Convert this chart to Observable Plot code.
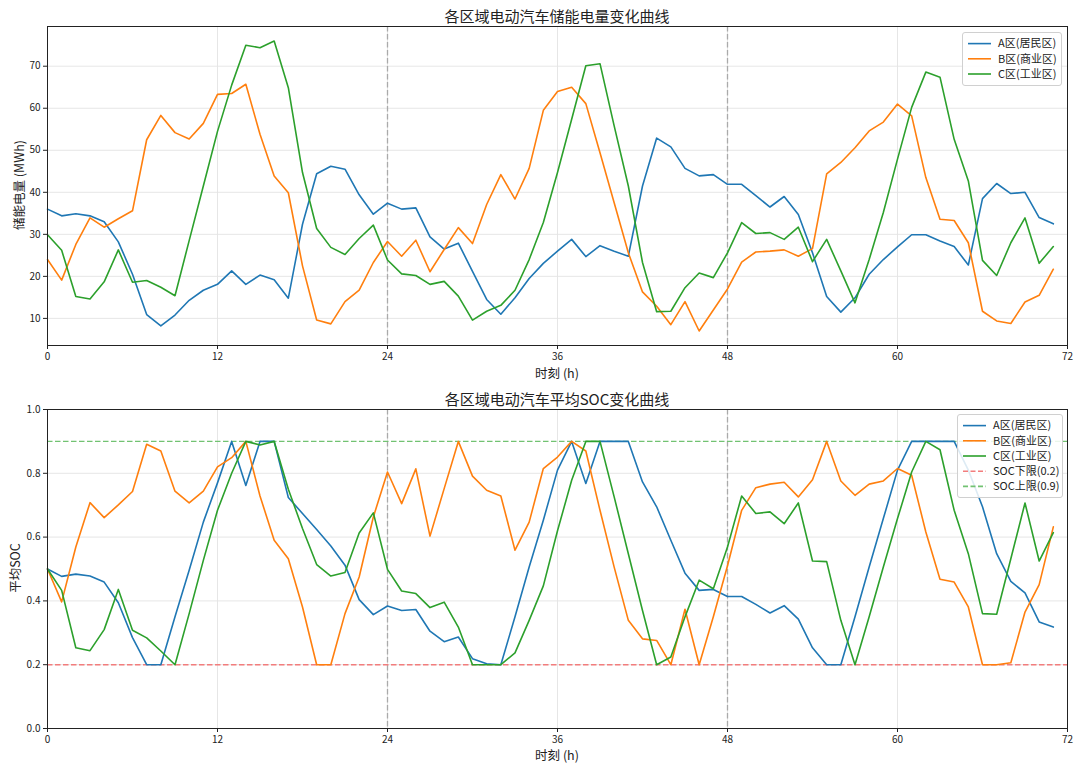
<!DOCTYPE html>
<html>
<head>
<meta charset="utf-8">
<script src="https://cdn.jsdelivr.net/npm/d3@7"></script>
<script src="https://cdn.jsdelivr.net/npm/@observablehq/plot@0.6"></script>
<style>
  html, body { margin: 0; padding: 0; background: #fff; }
  #root { position: relative; width: 1080px; height: 769px; font-family: "Noto Sans CJK SC", sans-serif; color: #222; }
  .abs { position: absolute; white-space: nowrap; }
  .title { font-size: 15px; transform: translate(-50%, -50%); }
  .xlab { font-size: 12.5px; transform: translate(-50%, -50%); }
  .ylab { font-size: 12.5px; transform: translate(-50%, -50%) rotate(-90deg); }
  .legend { background: rgba(255,255,255,0.85); border: 1px solid #d0d0d0; border-radius: 3px; }
</style>
</head>
<body>
<div id="root"></div>
<script>
// ---------------- data ----------------
const hours = d3.range(0, 72);
const xTicks = [0, 12, 24, 36, 48, 60, 72];
const dayLines = [24, 48];
const energyTicks = [10, 20, 30, 40, 50, 60, 70];
const socTicks = [0, 0.2, 0.4, 0.6, 0.8, 1.0];
const socLower = 0.2;
const socUpper = 0.9;
const zoneNames = ["A区(居民区)", "B区(商业区)", "C区(工业区)"];
const zoneColors = ["#1f77b4", "#ff7f0e", "#2ca02c"];
const lowerColor = "#f27d7d";
const upperColor = "#72c272";

const energyA = [36.0, 34.4, 34.9, 34.4, 33.0, 28.2, 20.5, 10.9, 8.2, 10.8, 14.3, 16.7,
  18.1, 21.3, 18.1, 20.3, 19.2, 14.8, 32.4, 44.4, 46.2, 45.5, 39.4, 34.8,
  37.4, 36.0, 36.3, 29.4, 26.5, 27.9, 21.2, 14.5, 11.0, 14.9, 19.5, 23.1,
  26.0, 28.8, 24.7, 27.3, 26.0, 24.8, 41.5, 52.9, 50.8, 45.7, 43.9, 44.2,
  41.9, 41.9, 39.2, 36.5, 39.0, 34.7, 25.6, 15.2, 11.5, 14.9, 20.5, 24.0,
  27.0, 29.9, 29.9, 28.4, 27.1, 22.7, 38.5, 42.1, 39.7, 40.0, 34.0, 32.5];
const energyB = [24.0, 19.1, 27.6, 33.9, 31.7, 33.7, 35.6, 52.5, 58.3, 54.2, 52.7, 56.4,
  63.3, 63.5, 65.7, 53.8, 43.9, 39.9, 22.5, 9.6, 8.7, 14.0, 16.7, 23.3,
  28.3, 24.8, 28.6, 21.1, 26.4, 31.6, 27.8, 37.1, 44.2, 38.4, 45.7, 59.5,
  64.0, 65.0, 61.1, 49.4, 37.5, 25.6, 16.3, 12.9, 8.5, 14.0, 7.0, 12.0,
  17.0, 23.4, 25.8, 26.0, 26.3, 24.8, 26.6, 44.4, 47.1, 50.6, 54.6, 56.7,
  61.0, 58.2, 43.5, 33.6, 33.3, 28.0, 11.7, 9.4, 8.8, 13.9, 15.5, 21.7];
const energyC = [29.9, 26.2, 15.2, 14.6, 18.7, 26.3, 18.6, 19.0, 17.4, 15.4, 28.5, 41.5,
  54.5, 65.5, 75.0, 74.4, 76.0, 64.9, 44.7, 31.4, 26.9, 25.2, 29.0, 32.2,
  23.9, 20.6, 20.2, 18.1, 18.8, 15.3, 9.6, 11.7, 13.1, 16.7, 24.0, 32.8,
  44.7, 57.4, 70.1, 70.6, 55.8, 41.5, 23.3, 11.6, 11.7, 17.3, 20.8, 19.7,
  25.6, 32.8, 30.2, 30.4, 28.8, 31.7, 23.5, 28.8, 21.3, 13.7, 24.0, 35.2,
  47.9, 60.2, 68.6, 67.4, 52.6, 42.7, 23.8, 20.2, 28.0, 33.9, 23.1, 27.1];

const socA = [0.50, 0.477, 0.484, 0.478, 0.459, 0.394, 0.285, 0.2, 0.2, 0.35, 0.496, 0.647,
  0.77, 0.9, 0.762, 0.9, 0.9, 0.724, 0.674, 0.624, 0.572, 0.512, 0.404, 0.357,
  0.384, 0.370, 0.373, 0.305, 0.272, 0.287, 0.219, 0.203, 0.2, 0.35, 0.506, 0.653,
  0.81, 0.9, 0.768, 0.9, 0.9, 0.9, 0.773, 0.695, 0.590, 0.487, 0.433, 0.436,
  0.414, 0.414, 0.389, 0.362, 0.385, 0.343, 0.253, 0.2, 0.2, 0.35, 0.506, 0.658,
  0.81, 0.9, 0.9, 0.9, 0.9, 0.81, 0.695, 0.548, 0.461, 0.425, 0.334, 0.318];
const socB = [0.50, 0.397, 0.569, 0.708, 0.661, 0.701, 0.743, 0.891, 0.870, 0.744, 0.707, 0.744,
  0.820, 0.849, 0.9, 0.729, 0.590, 0.532, 0.381, 0.2, 0.2, 0.360, 0.475, 0.663,
  0.804, 0.705, 0.814, 0.603, 0.752, 0.9, 0.791, 0.747, 0.729, 0.559, 0.647, 0.815,
  0.851, 0.9, 0.870, 0.684, 0.506, 0.339, 0.281, 0.276, 0.2, 0.374, 0.2, 0.35,
  0.51, 0.684, 0.755, 0.766, 0.772, 0.726, 0.780, 0.9, 0.776, 0.731, 0.766, 0.776,
  0.815, 0.794, 0.616, 0.468, 0.459, 0.381, 0.2, 0.2, 0.206, 0.365, 0.451, 0.632];
const socC = [0.50, 0.433, 0.253, 0.244, 0.310, 0.436, 0.308, 0.284, 0.243, 0.2, 0.36, 0.527,
  0.684, 0.80, 0.9, 0.889, 0.9, 0.75, 0.627, 0.514, 0.478, 0.489, 0.613, 0.676,
  0.499, 0.431, 0.423, 0.379, 0.396, 0.318, 0.2, 0.2, 0.2, 0.237, 0.339, 0.447,
  0.62, 0.778, 0.9, 0.9, 0.726, 0.548, 0.37, 0.2, 0.224, 0.35, 0.465, 0.438,
  0.569, 0.729, 0.674, 0.679, 0.642, 0.707, 0.525, 0.523, 0.339, 0.2, 0.35, 0.506,
  0.658, 0.804, 0.9, 0.874, 0.684, 0.548, 0.36, 0.358, 0.532, 0.707, 0.525, 0.614];

// ---------------- build tables ----------------
function toRows(series) {
  const rows = [];
  series.forEach((vals, i) => vals.forEach((v, j) => rows.push({ h: hours[j], v, zone: zoneNames[i] })));
  return rows;
}
const energyRows = toRows([energyA, energyB, energyC]);
const socRows = toRows([socA, socB, socC]);

const eExt = d3.extent(energyRows, d => d.v);
const pad = (eExt[1] - eExt[0]) * 0.05;
const energyDomain = [eExt[0] - pad, eExt[1] + pad];

const root = document.getElementById("root");
const FONT = "'Noto Sans CJK SC', sans-serif";
const W = 1080, ML = 47, MR = 13;

function panel({ height, marginTop, marginBottom, yDomain, yTicks, yFormat, rows, extra }) {
  return Plot.plot({
    width: W, height, marginLeft: ML, marginRight: MR, marginTop, marginBottom,
    style: { fontFamily: FONT, fontSize: "10px", color: "#222", background: "transparent", overflow: "visible" },
    x: { domain: [0, 72] },
    y: { domain: yDomain },
    color: { domain: zoneNames, range: zoneColors },
    marks: [
      Plot.gridX(xTicks, { stroke: "#e3e3e3", strokeOpacity: 1, strokeWidth: 0.9 }),
      Plot.gridY(yTicks, { stroke: "#e3e3e3", strokeOpacity: 1, strokeWidth: 0.9 }),
      Plot.ruleX(dayLines, { stroke: "#aaaaaa", strokeWidth: 1.3, strokeDasharray: "5.5,2.5" }),
      ...(extra || []),
      Plot.line(rows, { x: "h", y: "v", z: "zone", stroke: "zone", strokeWidth: 1.6 }),
      Plot.frame({ stroke: "#222", strokeWidth: 1 }),
      Plot.axisX({ ticks: xTicks, tickSize: 4, tickPadding: 3, label: null, tickFormat: d => d }),
      Plot.axisY({ ticks: yTicks, tickSize: 4, tickPadding: 3, label: null, tickFormat: yFormat })
    ]
  });
}

const p1 = panel({
  height: 385, marginTop: 26, marginBottom: 40,
  yDomain: energyDomain, yTicks: energyTicks, yFormat: d => d, rows: energyRows
});
const p2 = panel({
  height: 384, marginTop: 24, marginBottom: 41,
  yDomain: [0, 1], yTicks: socTicks, yFormat: d3.format(".1f"), rows: socRows,
  extra: [
    Plot.ruleY([socLower], { stroke: lowerColor, strokeWidth: 1.4, strokeDasharray: "5.5,2.5" }),
    Plot.ruleY([socUpper], { stroke: upperColor, strokeWidth: 1.4, strokeDasharray: "5.5,2.5" })
  ]
});

const w1 = document.createElement("div"); w1.className = "abs"; w1.style.left = "0px"; w1.style.top = "0px"; w1.appendChild(p1);
const w2 = document.createElement("div"); w2.className = "abs"; w2.style.left = "0px"; w2.style.top = "385px"; w2.appendChild(p2);
root.appendChild(w1); root.appendChild(w2);

function label(text, cls, x, y) {
  const d = document.createElement("div");
  d.className = "abs " + cls; d.textContent = text;
  d.style.left = x + "px"; d.style.top = y + "px";
  root.appendChild(d);
}
const cx = (ML + (W - MR)) / 2;
label("各区域电动汽车储能电量变化曲线", "title", cx, 15);
label("时刻 (h)", "xlab", cx, 372);
label("储能电量 (MWh)", "ylab", 18, 185);
label("各区域电动汽车平均SOC变化曲线", "title", cx, 398);
label("时刻 (h)", "xlab", cx, 754);
label("平均SOC", "ylab", 14, 568);

function legend(items, x, y, w) {
  const rowH = 15.2;
  const h = items.length * rowH + 6;
  const d = document.createElement("div");
  d.className = "abs legend";
  d.style.left = x + "px"; d.style.top = y + "px"; d.style.width = w + "px"; d.style.height = h + "px";
  const svg = d3.create("svg").attr("width", w).attr("height", h).style("display", "block");
  items.forEach((it, i) => {
    const yy = 3 + rowH * i + rowH / 2;
    svg.append("line").attr("x1", 5).attr("x2", 28).attr("y1", yy).attr("y2", yy)
      .attr("stroke", it.color).attr("stroke-width", 1.6)
      .attr("stroke-dasharray", it.dash || null);
    svg.append("text").attr("x", 35).attr("y", yy).attr("dy", "0.35em")
      .attr("font-size", 11).attr("font-family", FONT).attr("fill", "#222").text(it.name);
  });
  d.appendChild(svg.node());
  root.appendChild(d);
}
const zoneItems = zoneNames.map((n, i) => ({ name: n, color: zoneColors[i] }));
legend(zoneItems, 962, 32, 98);
legend([...zoneItems,
  { name: "SOC下限(" + socLower + ")", color: lowerColor, dash: "5,2.5" },
  { name: "SOC上限(" + socUpper + ")", color: upperColor, dash: "5,2.5" }
], 957, 414, 104);
</script>
</body>
</html>
